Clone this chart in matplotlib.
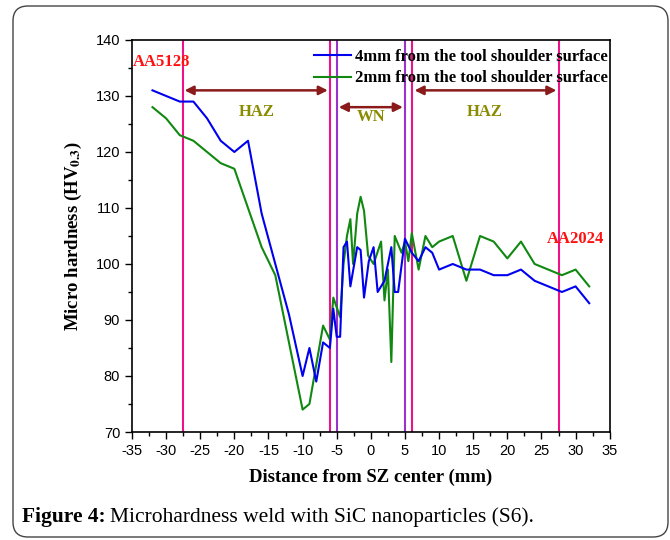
import numpy as np
import matplotlib.pyplot as plt
from matplotlib.patches import FancyBboxPatch
from matplotlib.ticker import MultipleLocator

plt.rcParams['mathtext.fontset'] = 'stix'
plt.rcParams['axes.unicode_minus'] = False

# 4 mm from the tool shoulder surface
x_4mm = [-32, -28, -26, -24, -22, -20, -18, -16, -14, -12, -10, -9, -8, -7, -6,
         -5.5, -5, -4.5, -4, -3.5, -3, -2, -1.5, -1, -0.3, 0.4, 1, 2, 3, 3.5, 4,
         5, 6, 7, 8, 9, 10, 12, 14, 16, 18, 20, 22, 24, 26, 28, 30, 32]
hv_4mm = [131, 129, 129, 126, 122, 120, 122, 109, 100, 91, 80, 85, 79, 86, 85,
          92, 87, 87, 103, 104, 96, 103, 102.5, 94, 100.5, 103, 95, 97, 103, 95, 95,
          104.5, 102, 100.5, 103, 102, 99, 100, 99, 99, 98, 98, 99, 97, 96, 95, 96, 93]

# 2 mm from the tool shoulder surface
x_2mm = [-32, -30, -28, -26, -24, -22, -20, -18, -16, -14, -12, -10, -9, -8, -7,
         -6, -5.5, -4.5, -4, -3.5, -3, -2.6, -2, -1.5, -1, -0.4, 0.4, 1.5, 2, 2.5,
         3, 3.5, 4.5, 5, 5.5, 6, 7, 8, 9, 10, 12, 14, 16, 18, 20, 22, 24, 26, 28,
         30, 32]
hv_2mm = [128, 126, 123, 122, 120, 118, 117, 110, 103, 98, 86, 74, 75, 82, 89,
          86.5, 94, 90.5, 100, 105, 108, 100, 109, 112, 109.5, 101.5, 100, 104, 93.5, 99,
          82.5, 105, 102, 104, 100.5, 105.5, 99, 105, 103, 104, 105, 97, 105, 104, 101,
          104, 100, 99, 98, 99, 96]

haz_lines = [-27.5, -6, 6, 27.5]
wn_lines = [-5, 5]

fig = plt.figure(figsize=(6.7, 5.4), dpi=100)

# rounded card around the figure
card = FancyBboxPatch((0.13, 0.03), 6.55, 5.31, boxstyle="round,pad=0,rounding_size=0.15",
                      transform=fig.dpi_scale_trans, facecolor='white', edgecolor='#444444',
                      lw=1.0, zorder=-1)
fig.patches.append(card)

ax = fig.add_axes([0.197, 0.2, 0.713, 0.726])
ax.patch.set_alpha(0)

for xv in haz_lines:
    ax.axvline(xv, color='#EE1188', lw=1.5, zorder=1)
for xv in wn_lines:
    ax.axvline(xv, color='#9933CC', lw=1.5, zorder=1)

ax.plot(x_4mm, hv_4mm, color='#0000EE', lw=1.5, label='4mm from the tool shoulder surface', zorder=3)
ax.plot(x_2mm, hv_2mm, color='#118811', lw=1.5, label='2mm from the tool shoulder surface', zorder=2)

ax.set_xlim(-35, 35)
ax.set_ylim(70, 140)
ax.xaxis.set_major_locator(MultipleLocator(5))
ax.xaxis.set_minor_locator(MultipleLocator(2.5))
ax.yaxis.set_major_locator(MultipleLocator(10))
ax.yaxis.set_minor_locator(MultipleLocator(5))
ax.tick_params(which='major', direction='out', length=5, width=1, labelsize=10.5)
ax.tick_params(which='minor', direction='out', length=3, width=1)
for lab in ax.get_xticklabels() + ax.get_yticklabels():
    lab.set_family('Liberation Sans')
for sp in ax.spines.values():
    sp.set_linewidth(1.2)

serif = 'Liberation Serif'
ax.set_xlabel('Distance from SZ center (mm)', family=serif, weight='bold', fontsize=13.5, labelpad=8)
ax.set_ylabel(r'Micro hardness (HV$_{\mathbf{0.3}}$)', family=serif, weight='bold', fontsize=13.5, labelpad=8)

arrow_kw = dict(arrowstyle='<|-|>', color='#8B1A1A', lw=1.8, mutation_scale=13, shrinkA=0, shrinkB=0)
ax.annotate('', xy=(-27.3, 131), xytext=(-6.3, 131), arrowprops=arrow_kw)
ax.annotate('', xy=(-4.7, 128), xytext=(4.7, 128), arrowprops=arrow_kw)
ax.annotate('', xy=(6.4, 131), xytext=(27.2, 131), arrowprops=arrow_kw)

zone_kw = dict(color='#8B8B00', family=serif, weight='bold', fontsize=12, ha='center', va='center')
ax.text(-16.7, 127.2, 'HAZ', **zone_kw)
ax.text(0, 126.2, 'WN', **zone_kw)
ax.text(16.7, 127.2, 'HAZ', **zone_kw)

ax.text(-30.6, 136, 'AA5128', color='#FF1111', family=serif, weight='bold', fontsize=12,
        ha='center', va='center')
ax.text(30, 104.5, 'AA2024', color='#FF1111', family=serif, weight='bold', fontsize=12,
        ha='center', va='center')

ax.legend(loc='upper left', bbox_to_anchor=(0.368, 0.995), frameon=False, handlelength=2.2,
          handletextpad=0.25, labelspacing=0.35, borderaxespad=0,
          prop={'family': serif, 'weight': 'bold', 'size': 12})

# caption: bold label followed by regular text
renderer = fig.canvas.get_renderer()
t1 = fig.text(0.033, 0.043, 'Figure 4:', family=serif, weight='bold', fontsize=15.5, va='center')
bb = t1.get_window_extent(renderer=renderer)
fig.text(bb.x1 + 4, bb.y0 + bb.height / 2, 'Microhardness weld with SiC nanoparticles (S6).',
         family=serif, fontsize=15.5, va='center', transform=None)

fig.savefig('out.png', dpi=100)
